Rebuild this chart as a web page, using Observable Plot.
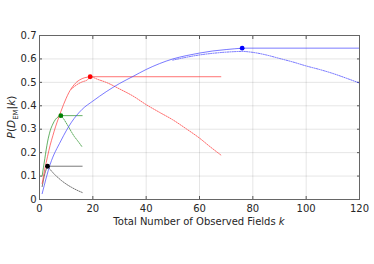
<!DOCTYPE html>
<html>
<head>
<meta charset="utf-8">
<script src="https://cdn.jsdelivr.net/npm/d3@7"></script>
<script src="https://cdn.jsdelivr.net/npm/@observablehq/plot@0.6"></script>
<style>
body { margin: 0; background: #fff; }
svg { font-family: "DejaVu Sans", sans-serif; }
</style>
</head>
<body>
<div id="chart"></div>
<script>
// Tick values
const xTicks = [0, 20, 40, 60, 80, 100, 120];
const yTicks = [0, 0.1, 0.2, 0.3, 0.4, 0.5, 0.6, 0.7];

// Black series
const blackSolidK = [1, 2, 3, 16];
const blackSolidP = [0.055, 0.11, 0.142, 0.142];
const blackDotK = [3, 4, 5, 6, 7, 8, 10, 12, 14, 16];
const blackDotP = [0.142, 0.128, 0.115, 0.103, 0.093, 0.083, 0.066, 0.052, 0.04, 0.03];
const blackPeak = [3, 0.142];

// Green series
const greenSolidK = [1, 2, 3, 4, 5, 6, 7, 8, 16];
const greenSolidP = [0.1, 0.175, 0.245, 0.293, 0.322, 0.342, 0.353, 0.358, 0.358];
const greenDotK = [8, 9, 10, 11, 12, 13, 14, 15, 16];
const greenDotP = [0.358, 0.345, 0.327, 0.308, 0.288, 0.27, 0.255, 0.24, 0.224];
const greenPeak = [8, 0.358];

// Red series
const redSolidK = [1, 2, 3, 4, 5, 6, 7, 8, 9, 10, 11, 12, 13, 14, 15, 16, 17, 18, 19, 68];
const redSolidP = [0.068, 0.13, 0.183, 0.232, 0.272, 0.31, 0.343, 0.375, 0.405, 0.432, 0.456, 0.475, 0.49, 0.502, 0.51, 0.516, 0.52, 0.522, 0.524, 0.524];
const redDotK = [12, 14, 16, 18, 19, 22, 25, 30, 35, 40, 45, 50, 55, 60, 64, 68];
const redDotP = [0.472, 0.49, 0.502, 0.511, 0.524, 0.512, 0.5, 0.472, 0.442, 0.405, 0.372, 0.34, 0.302, 0.262, 0.225, 0.19];
const redPeak = [19, 0.524];

// Blue series
const blueSolidK = [1, 4, 8, 12, 16, 20, 25, 30, 35, 40, 45, 50, 55, 60, 65, 70, 76, 120];
const blueSolidP = [0.025, 0.15, 0.25, 0.33, 0.385, 0.42, 0.46, 0.495, 0.525, 0.555, 0.58, 0.6, 0.614, 0.625, 0.634, 0.64, 0.646, 0.646];
const blueDotK = [50, 55, 60, 65, 70, 76, 80, 85, 90, 95, 100, 105, 110, 115, 120];
const blueDotP = [0.595, 0.607, 0.617, 0.624, 0.629, 0.632, 0.628, 0.617, 0.602, 0.587, 0.57, 0.555, 0.538, 0.518, 0.497];
const bluePeak = [76, 0.646];

const toRows = (ks, ps) => ks.map((k, i) => ({k, p: ps[i]}));

const series = [
  {color: "#3a3a3a", solid: toRows(blackSolidK, blackSolidP), dot: toRows(blackDotK, blackDotP), peak: blackPeak},
  {color: "#1a8a1a", solid: toRows(greenSolidK, greenSolidP), dot: toRows(greenDotK, greenDotP), peak: greenPeak},
  {color: "#ff3030", solid: toRows(redSolidK, redSolidP), dot: toRows(redDotK, redDotP), peak: redPeak},
  {color: "#3a3aff", solid: toRows(blueSolidK, blueSolidP), dot: toRows(blueDotK, blueDotP), peak: bluePeak}
];

const markerColors = ["#000000", "#008000", "#ff0000", "#0000ff"];

const marks = [
  Plot.gridX(xTicks, {stroke: "#000", strokeOpacity: 0.1}),
  Plot.gridY(yTicks, {stroke: "#000", strokeOpacity: 0.1}),
  Plot.axisX(xTicks, {tickSize: 0, tickPadding: 5, fontSize: 10, fill: "#262626", label: null, tickFormat: d => String(d)}),
  Plot.axisY(yTicks, {tickSize: 0, tickPadding: 3, fontSize: 10, fill: "#262626", label: null, tickFormat: d => d === 0 ? "0" : d.toFixed(1)}),
  Plot.axisX(xTicks, {tickSize: -3, tickFormat: () => "", stroke: "#555", label: null}),
  Plot.axisX(xTicks, {anchor: "top", tickSize: -3, tickFormat: () => "", stroke: "#555", label: null}),
  Plot.axisY(yTicks, {tickSize: -3, tickFormat: () => "", stroke: "#555", label: null}),
  Plot.axisY(yTicks, {anchor: "right", tickSize: -3, tickFormat: () => "", stroke: "#555", label: null})
];

series.forEach((s, i) => {
  marks.push(Plot.line(s.dot, {x: "k", y: "p", curve: "monotone-x", stroke: s.color, strokeWidth: 0.9, strokeOpacity: 0.8, strokeDasharray: "1.2,1.2"}));
  marks.push(Plot.line(s.solid.slice(0, -1), {x: "k", y: "p", curve: "monotone-x", stroke: s.color, strokeWidth: 0.8, strokeOpacity: 0.85}));
  marks.push(Plot.line(s.solid.slice(-2), {x: "k", y: "p", stroke: s.color, strokeWidth: 0.8, strokeOpacity: 0.85}));
});
series.forEach((s, i) => {
  marks.push(Plot.dot([s.peak], {x: d => d[0], y: d => d[1], r: 2.4, fill: markerColors[i], stroke: "none"}));
});
marks.push(Plot.frame({stroke: "#666", strokeWidth: 1}));

const plot = Plot.plot({
  width: 374,
  height: 264,
  marginLeft: 39,
  marginRight: 15,
  marginTop: 35,
  marginBottom: 65,
  x: {domain: [0, 120]},
  y: {domain: [0, 0.7]},
  style: {fontFamily: "'DejaVu Sans', sans-serif", background: "#fff"},
  marks
});

const svg = d3.select(plot);
// x axis label
const xl = svg.append("text")
  .attr("x", 199).attr("y", 225)
  .attr("text-anchor", "middle")
  .attr("font-size", 10)
  .attr("fill", "#262626");
xl.append("tspan").text("Total Number of Observed Fields ");
xl.append("tspan").attr("font-style", "italic").text("k");

// y axis label
const yl = svg.append("text")
  .attr("transform", "translate(15,117) rotate(-90)")
  .attr("text-anchor", "middle")
  .attr("font-size", 10.5)
  .attr("fill", "#262626");
yl.append("tspan").attr("font-style", "italic").text("P");
yl.append("tspan").text("(");
yl.append("tspan").attr("font-style", "italic").text("D");
yl.append("tspan").attr("font-size", 7).attr("dy", 2.5).text("EM");
yl.append("tspan").attr("dy", -2.5).text("|");
yl.append("tspan").attr("font-style", "italic").text("k");
yl.append("tspan").text(")");

document.getElementById("chart").appendChild(plot);
</script>
</body>
</html>
